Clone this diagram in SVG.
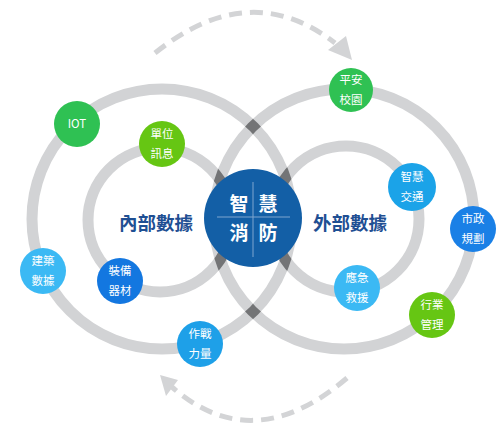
<svg xmlns="http://www.w3.org/2000/svg" width="500" height="425" viewBox="0 0 500 425">
<style>
.ring{fill:none;stroke:#d2d3d5;stroke-width:11}
.dark{fill:none;stroke:#737476;stroke-width:11}
.mk{fill:none;stroke:#fff;stroke-width:11}
.dash{fill:none;stroke:#d3d4d6;stroke-width:5;stroke-dasharray:13 8}
.nt{font-family:"Noto Sans CJK TC","Noto Sans CJK SC",sans-serif;font-size:11.5px;fill:#fff;text-anchor:middle}
.big{font-family:"Noto Sans CJK TC","Noto Sans CJK SC",sans-serif;font-size:18.5px;font-weight:bold;fill:#1f4f93;text-anchor:middle}
.ct{font-family:"Noto Sans CJK TC","Noto Sans CJK SC",sans-serif;font-size:19px;font-weight:bold;fill:#fff;text-anchor:middle}
</style>
<defs>
<mask id="rm" maskUnits="userSpaceOnUse" x="0" y="0" width="500" height="425">
<rect x="0" y="0" width="500" height="425" fill="#000"/>
<circle class="mk" cx="344" cy="219" r="130"/>
<circle class="mk" cx="346" cy="219" r="73"/>
</mask>
</defs>
<g id="connectors">
<path class="dash" d="M155,53 Q250,-23 335,43"/>
<polygon points="328,50 346,36 352,60" fill="#d3d4d6"/>
<path class="dash" d="M347,378 Q253,458 172,387"/>
<polygon points="178,380 160,375 166,396" fill="#d3d4d6"/>
<circle class="ring" cx="162" cy="219" r="130"/>
<circle class="ring" cx="344" cy="219" r="130"/>
<circle class="ring" cx="160" cy="220" r="72"/>
<circle class="ring" cx="346" cy="219" r="73"/>
<g mask="url(#rm)">
<circle class="dark" cx="162" cy="219" r="130"/>
<circle class="dark" cx="160" cy="220" r="72"/>
</g>
</g>
<g id="center">
<circle cx="253" cy="218" r="49" fill="#135fa6"/>
<line x1="217" y1="217" x2="290" y2="217" stroke="#7fa6cf" stroke-width="1"/>
<line x1="253" y1="182" x2="253" y2="257" stroke="#7fa6cf" stroke-width="1"/>
<text class="ct" x="239" y="211">智</text>
<text class="ct" x="268" y="211">慧</text>
<text class="ct" x="239" y="240">消</text>
<text class="ct" x="268" y="240">防</text>
</g>
<g id="inner-label"><text class="big" x="156" y="230">內部數據</text></g>
<g id="outer-label"><text class="big" x="350" y="230">外部數據</text></g>
<g id="n-iot"><circle cx="77" cy="124" r="23" fill="#2fc153"/><text class="nt" x="77" y="128">IOT</text></g>
<g id="n-unit"><circle cx="162" cy="144" r="23" fill="#66c613"/><text class="nt" x="162" y="138">單位</text><text class="nt" x="162" y="158">訊息</text></g>
<g id="n-campus"><circle cx="351" cy="90" r="22" fill="#2fc153"/><text class="nt" x="351" y="84">平安</text><text class="nt" x="351" y="104">校園</text></g>
<g id="n-traffic"><circle cx="412" cy="187" r="24" fill="#1ba3e8"/><text class="nt" x="412" y="181">智慧</text><text class="nt" x="412" y="201">交通</text></g>
<g id="n-city"><circle cx="473" cy="229" r="23" fill="#1a80e6"/><text class="nt" x="473" y="223">市政</text><text class="nt" x="473" y="243">規劃</text></g>
<g id="n-industry"><circle cx="432" cy="315" r="23" fill="#66c613"/><text class="nt" x="432" y="309">行業</text><text class="nt" x="432" y="329">管理</text></g>
<g id="n-rescue"><circle cx="357" cy="288" r="23" fill="#3bb9f4"/><text class="nt" x="357" y="282">應急</text><text class="nt" x="357" y="302">救援</text></g>
<g id="n-force"><circle cx="200" cy="344" r="23" fill="#1ea0e8"/><text class="nt" x="200" y="338">作戰</text><text class="nt" x="200" y="358">力量</text></g>
<g id="n-equip"><circle cx="120" cy="281" r="23" fill="#1377e0"/><text class="nt" x="120" y="275">裝備</text><text class="nt" x="120" y="295">器材</text></g>
<g id="n-building"><circle cx="43" cy="271" r="23" fill="#3bb9f4"/><text class="nt" x="43" y="265">建築</text><text class="nt" x="43" y="285">數據</text></g>
</svg>
